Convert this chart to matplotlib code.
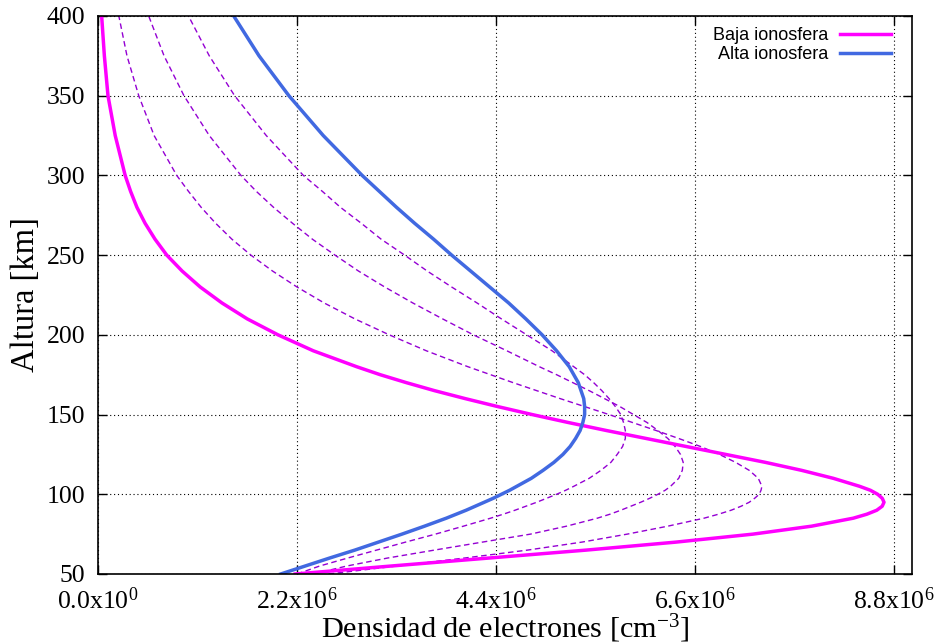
import matplotlib
matplotlib.use("Agg")
import matplotlib.pyplot as plt

plt.rcParams['font.family'] = ['Liberation Serif', 'DejaVu Serif']
plt.rcParams['mathtext.fontset'] = 'custom'
plt.rcParams['mathtext.rm'] = 'Liberation Serif'
plt.rcParams['mathtext.it'] = 'Liberation Serif:italic'

# altitude [km]
altura = [50, 55, 60, 65, 70, 75, 80, 85,
          87.5, 90, 92.5, 95, 97.5, 100, 102.5, 105,
          110, 115, 120, 125, 130, 135, 140, 145,
          150, 155, 160, 165, 170, 175, 180, 190,
          200, 210, 220, 230, 240, 250, 260, 270,
          280, 290, 300, 325, 350, 375, 400]

# electron density, units of 1e6 cm^-3
baja = [2.18, 3.24, 4.32, 5.40, 6.39, 7.24, 7.89, 8.35,
        8.50, 8.61, 8.67, 8.69, 8.67, 8.62, 8.54, 8.42,
        8.13, 7.78, 7.38, 6.94, 6.50, 6.06, 5.62, 5.20,
        4.80, 4.42, 4.06, 3.72, 3.41, 3.12, 2.86, 2.38,
        1.99, 1.65, 1.37, 1.13, 0.93, 0.76, 0.63, 0.52,
        0.43, 0.36, 0.30, 0.19, 0.11, 0.07, 0.04]
alta = [2.02, 2.29, 2.56, 2.84, 3.10, 3.36, 3.61, 3.85,
        3.96, 4.07, 4.17, 4.27, 4.37, 4.46, 4.55, 4.63,
        4.79, 4.92, 5.04, 5.14, 5.22, 5.28, 5.33, 5.36,
        5.38, 5.38, 5.37, 5.34, 5.31, 5.26, 5.21, 5.07,
        4.91, 4.73, 4.54, 4.33, 4.12, 3.91, 3.71, 3.50,
        3.30, 3.11, 2.92, 2.49, 2.11, 1.78, 1.50]
inter_1 = [2.55, 3.30, 4.05, 4.75, 5.35, 5.85, 6.30, 6.70,
           6.86, 7.00, 7.11, 7.20, 7.26, 7.31, 7.33, 7.34,
           7.30, 7.20, 7.05, 6.87, 6.66, 6.42, 6.17, 5.91,
           5.65, 5.38, 5.11, 4.85, 4.59, 4.34, 4.09, 3.63,
           3.22, 2.84, 2.50, 2.20, 1.93, 1.69, 1.48, 1.30,
           1.14, 1.00, 0.87, 0.62, 0.45, 0.32, 0.23]
inter_2 = [2.38, 2.75, 3.20, 3.72, 4.25, 4.78, 5.18, 5.52,
           5.66, 5.78, 5.89, 6.00, 6.10, 6.19, 6.27, 6.33,
           6.42, 6.46, 6.47, 6.44, 6.38, 6.30, 6.19, 6.07,
           5.92, 5.77, 5.60, 5.43, 5.25, 5.07, 4.88, 4.52,
           4.15, 3.81, 3.48, 3.17, 2.88, 2.62, 2.37, 2.15,
           1.94, 1.75, 1.58, 1.23, 0.95, 0.73, 0.56]
inter_3 = [2.20, 2.45, 2.76, 3.08, 3.40, 3.73, 4.04, 4.34,
           4.48, 4.61, 4.73, 4.85, 4.96, 5.07, 5.17, 5.26,
           5.43, 5.56, 5.67, 5.74, 5.80, 5.83, 5.83, 5.81,
           5.78, 5.72, 5.65, 5.57, 5.48, 5.38, 5.26, 5.02,
           4.74, 4.46, 4.19, 3.91, 3.64, 3.39, 3.13, 2.91,
           2.68, 2.48, 2.27, 1.86, 1.51, 1.23, 1.00]

xticks = [0.0, 2.2, 4.4, 6.6, 8.8]
xtick_labels = ['0.0x10$^{0}$', '2.2x10$^{6}$', '4.4x10$^{6}$', '6.6x10$^{6}$', '8.8x10$^{6}$']
yticks = [50, 100, 150, 200, 250, 300, 350, 400]

fig = plt.figure(figsize=(9.39, 6.44), dpi=100)
ax = fig.add_axes([0.1044, 0.1087, 0.8669, 0.8665])

for serie in (inter_1, inter_2, inter_3):
    ax.plot(serie, altura, color='#9400D3', lw=1.0, linestyle=(0, (4, 2.5)))
ax.plot(baja, altura, color='#FF00FF', lw=2.5, label='Baja ionosfera')
ax.plot(alta, altura, color='#4169E1', lw=2.5, label='Alta ionosfera')

ax.set_xlim(0, 9.0)
ax.set_ylim(50, 400)
ax.set_xticks(xticks)
ax.set_xticklabels(xtick_labels)
ax.set_yticks(yticks)
ax.tick_params(direction='in', length=6.5, width=1.0, labelsize=18.5,
               top=True, right=True)
ax.tick_params(axis='x', pad=9.5)
ax.tick_params(axis='y', pad=9)
ax.grid(True, color='black', lw=0.8, linestyle=(0, (1, 2.5)))
for s in ax.spines.values():
    s.set_linewidth(1.2)

ax.set_xlabel('Densidad de electrones [cm$^{-3}$]', fontsize=21.8, labelpad=-1)
ax.set_ylabel('Altura [km]', fontsize=23.5, labelpad=4)

ax.legend(loc='upper right', bbox_to_anchor=(0.983, 0.993), borderaxespad=0,
          frameon=False, markerfirst=False, handlelength=2.85,
          handletextpad=0.6, labelspacing=0.12,
          prop={'family': 'Liberation Sans', 'size': 13})

fig.savefig('out.png', dpi=100)
